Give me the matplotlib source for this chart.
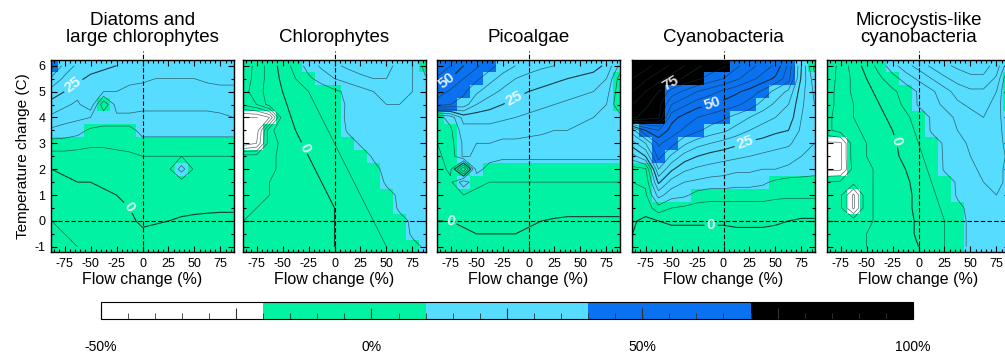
import numpy as np
import matplotlib
matplotlib.use("Agg")
import matplotlib.pyplot as plt
from matplotlib.colors import ListedColormap, BoundaryNorm
from matplotlib.ticker import MultipleLocator

plt.rcParams['font.family'] = ['Liberation Sans', 'DejaVu Sans']
plt.rcParams['axes.unicode_minus'] = False

# grid of the model runs
flow = [-87.5, -75, -62.5, -50, -37.5, -25, -12.5, 0, 12.5, 25, 37.5, 50, 62.5, 75, 87.5]
temp = [6.0, 5.5, 5.0, 4.5, 4.0, 3.5, 3.0, 2.5, 2.0, 1.5, 1.0, 0.5, 0.0, -0.5, -1.0]

# % change in biomass, rows follow temp (top to bottom), columns follow flow
diatoms = [
    [42, 33, 29, 27, 26, 25, 24, 23, 22, 22, 22, 22, 23, 23, 22],
    [34, 29, 26, 24, 23, 22, 21, 21, 20, 20, 20, 20, 21, 21, 21],
    [28, 25, 22, 21, 20, 20, 19, 18, 18, 18, 18, 18, 18, 19, 19],
    [23, 21, 19, 24, 6, 17, 17, 16, 16, 16, 16, 16, 16, 17, 17],
    [19, 17, 16, 15, 14, 14, 14, 14, 14, 14, 14, 14, 14, 14, 15],
    [14, 13, 12, 9, 8, 8, 8, 12, 12, 12, 12, 12, 12, 12, 12],
    [8, 8, 7, 6, 6, 6, 7, 8, 8, 8, 8, 8, 8, 8, 8],
    [3, 3, 3, 3, 3, 4, 4, 5, 5, 5, 5, 5, 5, 5, 5],
    [0, 1, 1, 1, 2, 2, 3, 4, 4, 4, 12, 4, 4, 4, 4],
    [-2, -1, 0, 0, 1, 1, 2, 3, 3, 3, 3, 3, 3, 3, 3],
    [-3, -2, -2, -1, -1, 0, 1, 2, 2, 2, 2, 2, 2, 2, 2],
    [-4, -3, -3, -2, -2, -1, 0, 1, 1, 1, 1, 1, 1, 1, 1],
    [-5, -4, -4, -3, -3, -2, -1, 1, 0.5, 0, -0.5, -1, -1.5, -2, -2],
    [-5, -5, -4, -4, -3, -3, -2, -1, -1.5, -2, -2.5, -3, -3, -3, -3],
    [-6, -5, -5, -4, -4, -3, -3, -2, -2.5, -3, -3.5, -4, -4, -4, -4],
]
chloro = [
    [-14, -8, -3, 2, 7, 12, 16, 19, 21, 22, 22, 21, 19, 15, 8],
    [-13, -8, -3, 1, 5, 9, 12, 15, 17, 19, 20, 20, 18, 15, 10.5],
    [-12, -7, -3, 0, 3, 5, 7, 9, 11, 13, 15, 16, 16, 15, 13],
    [-14, -10, -3, -1, 2, 4, 6, 8, 10.5, 12, 14, 15, 15, 15, 14],
    [-30, -30, -25, -2, 1, 3, 5, 7, 11, 12, 13, 14, 15, 15, 14],
    [-28, -28, -6, -3, 0, 2, 4, 6, 10.5, 11, 13, 14, 15, 15, 14],
    [-28, -25, -7, -4, -1, 1, 3, 5, 8, 10.5, 12, 13, 14, 14, 14],
    [-8, -8, -6, -4, -2, 0, 2, 4, 6, 8, 10.5, 12, 13, 13, 13],
    [-7, -7, -6, -4, -3, -1, 1, 3, 5, 7, 9, 11, 12, 13, 13],
    [-6, -6, -5, -4, -3, -2, 0, 2, 4, 6, 8, 10.5, 11, 12, 12],
    [-6, -5, -5, -4, -3, -2, -1, 1, 3, 5, 7, 9, 10.5, 11, 12],
    [-5, -5, -4, -4, -3, -2, -1, 0, 2, 4, 6, 8, 10.5, 11, 12],
    [-5, -4, -4, -3, -3, -2, -1, 0, 1, 3, 5, 7, 9, 10.5, 11],
    [-4, -4, -4, -3, -3, -2, -1, 0, 1, 2, 4, 6, 8, 10.5, 11],
    [-4, -4, -3, -3, -2, -2, -1, 0, 1, 2, 3, 5, 7, 9, 10.5],
]
pico = [
    [60, 55, 50, 46, 42, 38, 35, 33, 31, 30, 29, 28, 27, 24, 14],
    [54, 50, 45, 41, 37, 33, 30, 28, 27, 26, 25, 24, 23, 20, 8],
    [48, 44, 41, 36, 32, 29, 27, 25, 24, 23, 22, 21, 20, 17, 7],
    [42, 40, 38, 30, 27, 25, 23, 22, 21, 20, 19, 18, 17, 15, 6],
    [8, 12, 22, 22, 22, 21, 20, 19, 18, 17, 16, 16, 15, 14, 12],
    [6, 9, 18, 18, 18, 17, 17, 16, 16, 15, 15, 14, 14, 13, 12],
    [5, 8, 16, 15, 15, 14, 14, 14, 13, 13, 13, 12, 12, 12, 11],
    [4, 7, 16, 14, 12, 11, 11, 11, 11, 11, 11, 11, 11, 11, 11],
    [3, 6, -15, 12, 8, 7, 7, 7, 7, 7, 7, 7, 7, 7, 7],
    [2, 4, 13, 6, 5, 5, 5, 5, 5, 5, 5, 5, 5, 5, 5],
    [1, 2, 5, 4, 4, 4, 4, 4, 3, 3, 3, 3, 3, 3, 3],
    [0.5, 1, 2, 2, 2, 2, 2, 2, 2, 2, 2, 2, 2, 2, 2],
    [0, 0, 0.5, 1, 1, 1, 1, 0.5, 0, -0.5, -1, -1, -1, -1, -1],
    [-1, -1, -0.5, 0, 0, 0, 0, -0.5, -1, -1.5, -2, -2, -2, -2, -2],
    [-2, -1.5, -1, -1, -1, -1, -1, -1.5, -2, -2, -2.5, -3, -3, -3, -3],
]
cyano = [
    [95, 92, 88, 84, 80, 76, 73, 71, 66, 62, 58, 54, 44, 25, 8],
    [90, 86, 82, 78, 74, 71, 68, 65, 61, 57, 53, 49, 42, 24, 12],
    [85, 80, 75, 68, 64, 60, 57, 54, 51, 48, 44, 38, 34, 22, 14],
    [80, 76, 72, 60, 56, 52, 50, 48, 46, 43, 38, 34, 30, 21, 15],
    [76, 73, 71, 52, 48, 45, 43, 41, 38, 35, 32, 30, 28, 20, 16],
    [38, 50, 55, 48, 44, 41, 38, 36, 33, 30, 28, 26, 25, 19, 16],
    [28, 35, 46, 42, 36, 32, 30, 28, 26, 24, 23, 22, 21, 17, 15],
    [18, 25, 42, 34, 28, 25, 23, 22, 21, 20, 19, 18, 17, 15, 14],
    [8, 9, 35, 26, 21, 19, 18, 17, 16, 16, 15, 15, 14, 13, 12],
    [5, 6, 26, 18, 15, 14, 13, 13, 12, 12, 11, 9, 8, 8, 8],
    [3, 4, 17, 12, 11, 8, 7, 7, 7, 7, 7, 6, 6, 6, 6],
    [1, 2, 8, 5, 4, 3, 3, 3, 3, 3, 3, 3, 2, 2, 2],
    [0.5, -1, 0, 0.5, 0.5, 0.5, 0.5, 0.5, 1, 1, 1, 0.5, 0, -0.5, -0.5],
    [0, -2, -2, -1, -1, -1, -1, -1, -1, -1, -1, -1, -1, -1, -1],
    [-1, -2, -2.5, -3, -3, -3, -3, -3, -3, -3, -3, -3, -3, -3, -3],
]
microcystis = [
    [-14, -8, -3, 2, 7, 13, 18, 22, 26, 29, 31, 32, 32, 28, 15],
    [-13, -8, -4, 0, 4, 8, 12, 16, 20, 24, 27, 29, 29, 24, 8],
    [-12, -8, -4, -1, 1, 4, 7, 10.5, 14, 18, 22, 24, 24, 20, 7],
    [-12, -8, -5, -2, 0, 3, 6, 10.5, 13, 16, 19, 21, 22, 18, 8],
    [-11, -8, -5, -3, -1, 1, 4, 7, 10.5, 13, 16, 18, 20, 17, 11],
    [-11, -8, -6, -4, -2, 0, 3, 6, 10.5, 12, 15, 17, 19, 17, 12],
    [-21, -21, -7, -5, -3, -1, 2, 5, 8, 10.5, 13, 16, 18, 17, 13],
    [-21, -21, -7, -5, -3, -1, 1, 4, 7, 10.5, 12, 15, 17, 17, 14],
    [-21, -21, -8, -6, -4, -2, 0, 3, 6, 10.5, 12, 14, 16, 16, 14],
    [-10, -9, -8, -6, -4, -2, -1, 2, 5, 8, 10.5, 13, 15, 16, 14],
    [-10, -9, -21, -6, -4, -3, -1, 1, 4, 7, 10.5, 12, 14, 15, 14],
    [-10, -9, -21, -6, -4, -3, -1, 1, 3, 6, 9, 11, 13, 14, 14],
    [-9, -8, -7, -6, -4, -3, -1, 0.5, 3, 5, 8, 11, 13, 14, 14],
    [-9, -8, -7, -5, -4, -2, -1, 0.5, 2, 5, 8, 11, 12, 13, 14],
    [-9, -8, -7, -5, -4, -2, -1, 0, 2, 5, 8, 11, 12, 13, 13],
]

titles = ["Diatoms and\nlarge chlorophytes", "Chlorophytes", "Picoalgae",
          "Cyanobacteria", "Microcystis-like\ncyanobacteria"]
panels = [diatoms, chloro, pico, cyano, microcystis]
# labelled contours and where their labels sit
label_levels = [[0, 25], [0], [0, 25, 50], [0, 25, 50, 75], [0]]
label_spots = [
    [(-68, 5.3), (-14, 0.5)],
    [(-30, 2.8)],
    [(-78, 5.4), (-15, 4.85), (-75, 0.1)],
    [(-48, 5.15), (-12, 4.7), (20, 3.1), (-12, -0.1)],
    [(-20, 3.1)],
]

bounds = [-50, -20, 10, 40, 70, 100]
cmap = ListedColormap(['white', '#00F2A2', '#55DCFF', '#0A72F0', 'black'])
cmap.set_under('white')
cmap.set_over('black')
norm = BoundaryNorm(bounds, cmap.N)

W, H = 1005, 354
fig = plt.figure(figsize=(W / 100, H / 100), dpi=100)

lefts = [51, 243, 437, 632, 827]
all_levels = np.arange(-45, 100, 5)

for i, (z, title) in enumerate(zip(panels, titles)):
    ax = fig.add_axes([lefts[i] / W, (H - 252) / H, 183 / W, 192 / H])
    z = np.array(z, dtype=float)
    mesh = ax.pcolormesh(flow, temp, z, cmap=cmap, norm=norm, shading='nearest')
    thin = [v for v in all_levels if v not in label_levels[i]]
    ax.contour(flow, temp, z, levels=thin, colors='#1c2b2b', linewidths=0.5,
               alpha=0.7, negative_linestyles='solid')
    cs = ax.contour(flow, temp, z, levels=label_levels[i], colors='#102020',
                    linewidths=0.8, alpha=0.85)
    ax.clabel(cs, manual=label_spots[i], inline=True, inline_spacing=2,
              fmt='%d', colors='white', fontsize=11)
    for t in cs.labelTexts:
        t.set_fontweight('bold')
    ax.axhline(0, color='black', lw=0.8, ls=(0, (4, 2)))
    ax.plot([0, 0], [-1.2, 6.55], color='black', lw=0.8, ls=(0, (4, 2)), clip_on=False)
    ax.set_xlim(-88, 88)
    ax.set_ylim(-1.2, 6.22)
    ax.set_xticks([-75, -50, -25, 0, 25, 50, 75])
    ax.xaxis.set_minor_locator(MultipleLocator(5))
    ax.yaxis.set_major_locator(MultipleLocator(1))
    ax.yaxis.set_minor_locator(MultipleLocator(0.5))
    ax.tick_params(which='both', direction='in', top=True, right=True, labelsize=9,
                   width=0.8, pad=4)
    ax.tick_params(which='major', length=4)
    ax.tick_params(which='minor', length=2.5)
    for s in ax.spines.values():
        s.set_linewidth(1.0)
    ax.set_xlabel("Flow change (%)", fontsize=11.5, labelpad=2)
    if i == 0:
        ax.set_ylabel("Temperature change (C)", fontsize=11, labelpad=3)
    else:
        ax.set_yticklabels([])
    ax.set_title(title, fontsize=13.5, pad=13, linespacing=1.0)

cax = fig.add_axes([100.7 / W, (H - 319) / H, 812.3 / W, 17 / H])
cb = fig.colorbar(mesh, cax=cax, orientation='horizontal', spacing='proportional')
cb.outline.set_linewidth(0.8)
cax.set_xticks([-50, -25, 0, 25, 50, 75, 100])
cax.set_xticklabels(['-50%', '', '0%', '', '50%', '', '100%'])
cax.xaxis.set_minor_locator(MultipleLocator(5))
cax.tick_params(which='both', direction='in', bottom=True, top=False, labelsize=10,
                pad=15, color='#333333')
cax.tick_params(which='major', length=8)
cax.tick_params(which='minor', length=4)

fig.savefig("out.png", dpi=100)
